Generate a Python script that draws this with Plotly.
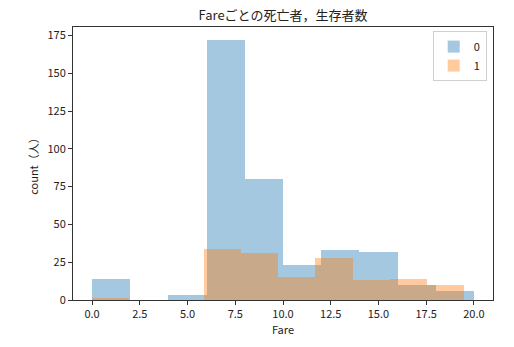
import numpy as np
import plotly.graph_objects as go

# --- data ---
series_names = ["0", "1"]
fare_min_0, fare_max_0 = 0.0, 20.0
counts_0 = [14, 0, 3, 172, 80, 23, 33, 32, 10, 6]
fare_min_1, fare_max_1 = 0.0, 19.5
counts_1 = [1, 0, 0, 34, 31, 15, 28, 13, 14, 10]
x_ticks = [0.0, 2.5, 5.0, 7.5, 10.0, 12.5, 15.0, 17.5, 20.0]
y_ticks = [0, 25, 50, 75, 100, 125, 150, 175]

colors = ["#1f77b4", "#ff7f0e"]
FONT = "Noto Sans CJK JP, Noto Sans, sans-serif"

fig = go.Figure()
for name, lo, hi, counts, col in [
    (series_names[0], fare_min_0, fare_max_0, counts_0, colors[0]),
    (series_names[1], fare_min_1, fare_max_1, counts_1, colors[1]),
]:
    edges = np.linspace(lo, hi, len(counts) + 1)
    centers = (edges[:-1] + edges[1:]) / 2
    widths = np.diff(edges)
    fig.add_trace(go.Bar(
        x=centers, y=counts, width=widths, name=name,
        marker=dict(color=col, line=dict(width=0)), opacity=0.4,
    ))

ymax = max(max(counts_0), max(counts_1)) * 1.05
xlo = min(fare_min_0, fare_min_1)
xhi = max(fare_max_0, fare_max_1)
pad = (xhi - xlo) * 0.05

fig.update_layout(
    width=514, height=347,
    margin=dict(l=73, r=21, t=27, b=47),
    barmode="overlay", bargap=0,
    plot_bgcolor="white", paper_bgcolor="white",
    font=dict(family=FONT, size=11, color="#222"),
    title=dict(text="Fareごとの死亡者，生存者数", x=0.5, xanchor="center",
               xref="paper", y=0.955, yanchor="middle",
               font=dict(size=13, family=FONT, color="#222")),
    legend=dict(x=0.985, y=0.985, xanchor="right", yanchor="top",
                bgcolor="rgba(255,255,255,0.8)", bordercolor="#d0d0d0", borderwidth=1,
                font=dict(size=11, family=FONT), itemwidth=30, tracegroupgap=0,
                traceorder="normal"),
    showlegend=True,
)
fig.update_xaxes(
    range=[xlo - pad, xhi + pad], tickvals=x_ticks, tickformat=".1f",
    ticks="outside", ticklen=4, tickcolor="#333", showgrid=False, zeroline=False,
    showline=True, linecolor="#333", linewidth=1, mirror=True,
    title=dict(text="Fare", font=dict(size=11, family=FONT), standoff=4),
    tickfont=dict(size=11, family=FONT),
)
fig.update_yaxes(
    range=[0, ymax], tickvals=y_ticks,
    ticks="outside", ticklen=4, tickcolor="#333", showgrid=False, zeroline=False,
    showline=True, linecolor="#333", linewidth=1, mirror=True,
    title=dict(text="count（人）", font=dict(size=11, family=FONT), standoff=6),
    tickfont=dict(size=11, family=FONT),
)

fig.write_html("out.html")
